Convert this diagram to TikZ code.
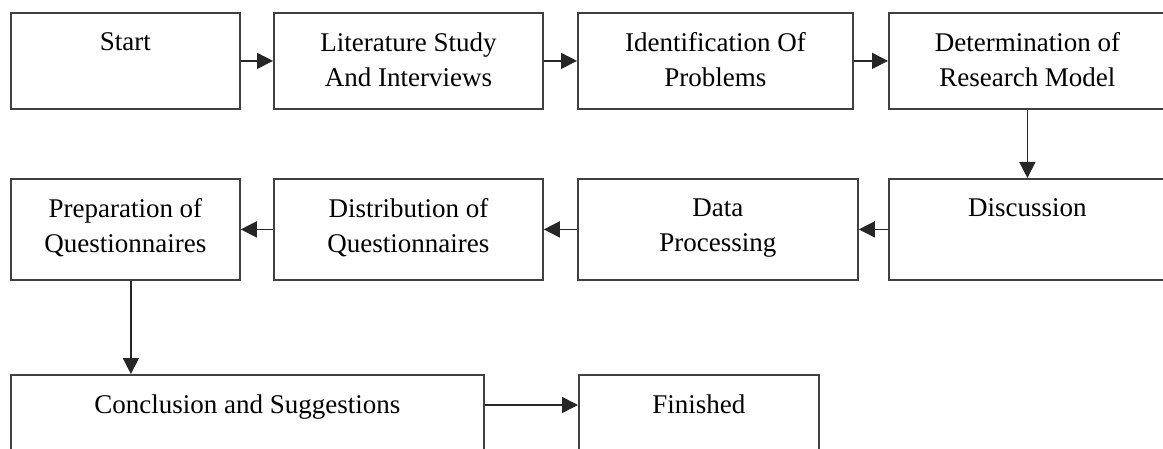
\documentclass[tikz,border=0pt]{standalone}
\usepackage{fontspec}
\setmainfont{Liberation Serif}
\usetikzlibrary{arrows.meta, positioning}

\begin{document}
\begin{tikzpicture}[
    x=0.5pt, y=-0.5pt,
    font=\fontsize{13.5}{17.5}\selectfont,
    box/.style={draw=black!75, line width=0.9pt, anchor=north west, inner sep=0pt,
                minimum height=48pt},
    txt/.style={anchor=north, inner sep=0pt, yshift=-10pt, align=center},
    flow/.style={-{Triangle[length=8pt, width=8pt]}, line width=0.75pt, black!85},
]
    \useasboundingbox (0,0) rectangle (1163,449);

    %==================== ROW 1 ====================
    \node[box, minimum width=114.5pt, label={[txt]north:Start}] (start) at (10,12) {};
    \node[box, minimum width=134.5pt,
          label={[txt]north:Literature Study\\And Interviews}] (lit) at (273,12) {};
    \node[box, minimum width=137.5pt,
          label={[txt]north:Identification Of\\Problems}] (ident) at (577,12) {};
    \node[box, minimum width=138.5pt,
          label={[txt]north:Determination of\\Research Model}] (model) at (888,12) {};

    \draw[flow] (start) -- (lit);
    \draw[flow] (lit) -- (ident);
    \draw[flow] (ident) -- (model);

    %==================== ROW 2 ====================
    \node[box, minimum width=138.5pt, minimum height=50.5pt,
          label={[txt]north:Discussion}] (disc) at (888,178) {};
    \node[box, minimum width=140pt, minimum height=50.5pt,
          label={[txt]north:Data\\Processing}] (data) at (577,178) {};
    \node[box, minimum width=134.5pt, minimum height=50.5pt,
          label={[txt]north:Distribution of\\Questionnaires}] (dist) at (273,178) {};
    \node[box, minimum width=114.5pt, minimum height=50.5pt,
          label={[txt]north:Preparation of\\Questionnaires}] (prep) at (10,178) {};

    \draw[flow] (model) -- (disc);
    \draw[flow] (disc) -- (data);
    \draw[flow] (data) -- (dist);
    \draw[flow] (dist) -- (prep);

    %==================== ROW 3 ====================
    \node[box, minimum width=236.5pt, minimum height=50pt,
          label={[txt]north:Conclusion and Suggestions}] (concl) at (10,374) {};
    \node[box, minimum width=120pt, minimum height=50pt,
          label={[txt]north:Finished}] (fin) at (578,374) {};

    \draw[flow] ([xshift=2.75pt]prep.south) -- ([xshift=2.75pt]prep.south |- concl.north);
    \draw[flow] ([yshift=-15.5pt]concl.north east) -- ([yshift=-15.5pt]fin.north west);

\end{tikzpicture}
\end{document}
